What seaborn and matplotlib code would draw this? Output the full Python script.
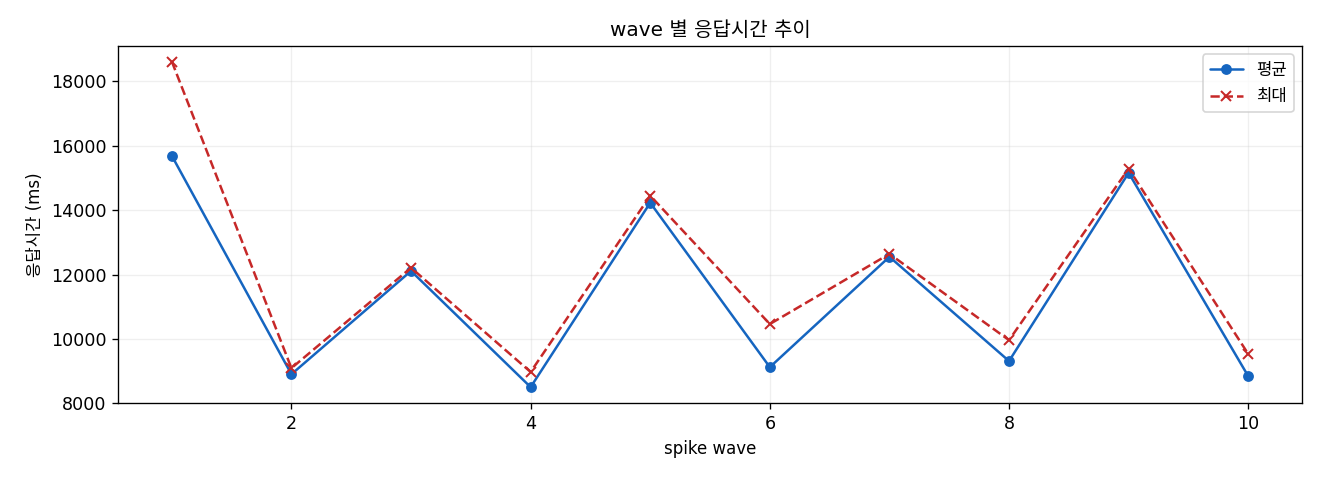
import numpy as np
import pandas as pd
import matplotlib
matplotlib.use("Agg")
import matplotlib.pyplot as plt
import seaborn as sns

# wave별 응답시간 (ms), 그림에서 읽은 값
waves = [1, 2, 3, 4, 5, 6, 7, 8, 9, 10]
avg_ms = [15690, 8900, 12110, 8500, 14230, 9120, 12550, 9310, 15160, 8840]
max_ms = [18620, 9090, 12210, 8970, 14450, 10460, 12640, 9960, 15290, 9530]

df = pd.DataFrame({"wave": waves, "평균": avg_ms, "최대": max_ms})

sns.set_style("ticks")
plt.rcParams['font.family'] = ['DejaVu Sans', 'Noto Sans CJK KR']
plt.rcParams['axes.unicode_minus'] = False
plt.rcParams['text.color'] = 'black'
plt.rcParams['axes.labelcolor'] = 'black'
plt.rcParams['xtick.color'] = 'black'
plt.rcParams['ytick.color'] = 'black'

fig, ax = plt.subplots(figsize=(11, 4), dpi=120)

blue, red = "#1565c0", "#c62828"
sns.lineplot(data=df, x="wave", y="평균", ax=ax, color=blue,
             marker="o", markersize=6.5, markeredgewidth=0, linewidth=1.5, label="평균")
sns.lineplot(data=df, x="wave", y="최대", ax=ax, color=red,
             marker="x", markersize=6, markeredgewidth=1.2, markeredgecolor=red,
             linestyle="--", linewidth=1.5, label="최대")

ax.set_ylim(8000, 19100)
ax.set_xlim(0.55, 10.45)
ax.set_xticks([2, 4, 6, 8, 10])
ax.grid(True, alpha=0.3)
ax.set_title("wave 별 응답시간 추이", fontsize=12)
ax.set_xlabel("spike wave", fontsize=10)
ax.set_ylabel("응답시간 (ms)", fontsize=10)
ax.tick_params(labelsize=10.5)
for s in ax.spines.values():
    s.set_visible(True)
    s.set_color("black")
ax.legend(loc="upper right", fontsize=10)

plt.subplots_adjust(left=0.0894, right=0.9864, top=0.904, bottom=0.16)
plt.savefig("out.png")
